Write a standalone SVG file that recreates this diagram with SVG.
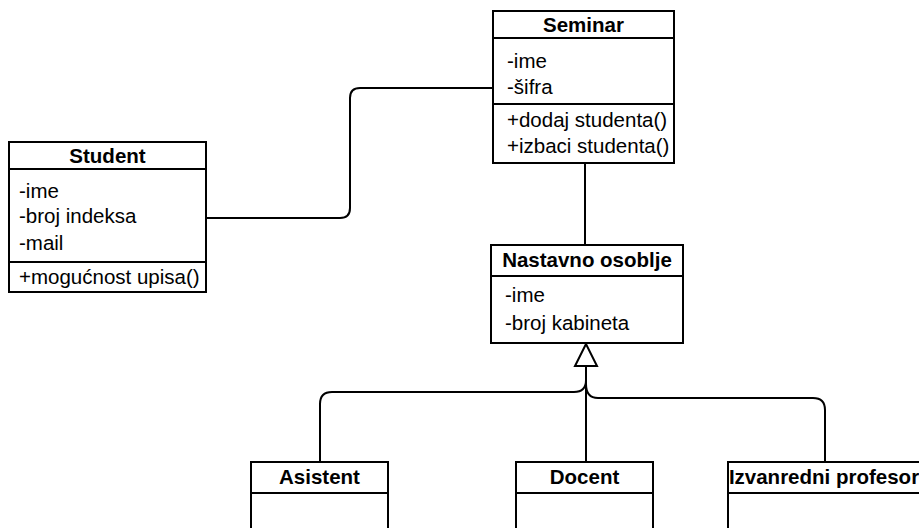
<svg xmlns="http://www.w3.org/2000/svg" width="919" height="528" viewBox="0 0 919 528">
<style>
.box{fill:#fff;stroke:#000;stroke-width:2}
.ln{fill:none;stroke:#000;stroke-width:2}
.t{font-family:"Liberation Sans",Arial,sans-serif;font-size:20.5px;fill:#000}
.h{font-family:"Liberation Sans",Arial,sans-serif;font-size:20.5px;font-weight:bold;fill:#000;text-anchor:middle}
</style>
<rect width="919" height="528" fill="#fff"/>
<g id="connectors">
<path class="ln" d="M206,218 H340 Q350,218 350,208 V98 Q350,88 360,88 H493"/>
<path class="ln" d="M585,163 V245"/>
<path class="ln" d="M586,366 V462"/>
<path class="ln" d="M586,380 Q586,392 574,392 H332 Q320,392 320,404 V462"/>
<path class="ln" d="M586,384 Q586,398 598,398 H813 Q825,398 825,410 V462"/>
<polygon points="586,344 575,366 597,366" fill="#fff" stroke="#000" stroke-width="2"/>
</g>
<g id="seminar">
<rect class="box" x="493" y="11" width="181" height="152"/>
<line class="ln" x1="493" y1="38" x2="674" y2="38"/>
<line class="ln" x1="493" y1="104" x2="674" y2="104"/>
<text class="h" x="583.5" y="32">Seminar</text>
<text class="t" x="507" y="68">-ime</text>
<text class="t" x="507" y="94">-šifra</text>
<text class="t" x="507" y="127">+dodaj studenta()</text>
<text class="t" x="507" y="153">+izbaci studenta()</text>
</g>
<g id="student">
<rect class="box" x="9" y="142" width="197" height="150"/>
<line class="ln" x1="9" y1="169" x2="206" y2="169"/>
<line class="ln" x1="9" y1="262" x2="206" y2="262"/>
<text class="h" x="107.5" y="163">Student</text>
<text class="t" x="19" y="198">-ime</text>
<text class="t" x="19" y="223">-broj indeksa</text>
<text class="t" x="19" y="250">-mail</text>
<text class="t" x="19" y="284">+mogućnost upisa()</text>
</g>
<g id="nastavno">
<rect class="box" x="491" y="245" width="192" height="98"/>
<line class="ln" x1="491" y1="276" x2="683" y2="276"/>
<text class="h" x="587" y="267">Nastavno osoblje</text>
<text class="t" x="505" y="302">-ime</text>
<text class="t" x="505" y="330">-broj kabineta</text>
</g>
<g id="asistent">
<rect class="box" x="251" y="462" width="137" height="80"/>
<line class="ln" x1="251" y1="493" x2="388" y2="493"/>
<text class="h" x="319.5" y="484">Asistent</text>
</g>
<g id="docent">
<rect class="box" x="516" y="462" width="137" height="80"/>
<line class="ln" x1="516" y1="493" x2="653" y2="493"/>
<text class="h" x="584.5" y="484">Docent</text>
</g>
<g id="izvanredni">
<rect class="box" x="728" y="462" width="220" height="80"/>
<line class="ln" x1="728" y1="493" x2="948" y2="493"/>
<text class="h" x="824" y="484">Izvanredni profesor</text>
</g>
</svg>
